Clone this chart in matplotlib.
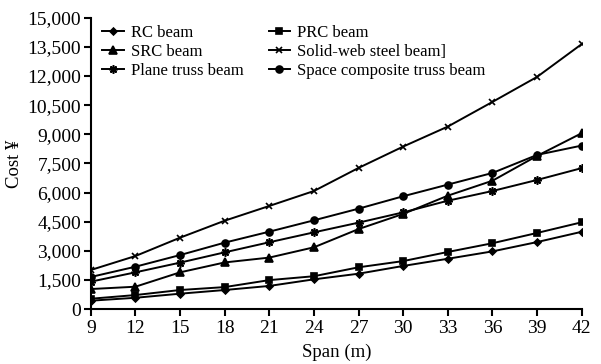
import matplotlib.pyplot as plt

plt.rcParams['font.family'] = ['Liberation Serif', 'DejaVu Serif']

span = [9, 12, 15, 18, 21, 24, 27, 30, 33, 36, 39, 42]

rc_beam = [430, 580, 790, 980, 1190, 1530, 1820, 2220, 2590, 2970, 3450, 3980]
src_beam = [1030, 1150, 1890, 2400, 2650, 3180, 4120, 4900, 5840, 6610, 7890, 9060]
plane_truss = [1410, 1890, 2390, 2920, 3440, 3950, 4450, 4980, 5580, 6080, 6650, 7260]
prc_beam = [530, 720, 980, 1130, 1490, 1690, 2150, 2470, 2940, 3390, 3920, 4470]
solid_web = [2010, 2730, 3675, 4550, 5310, 6080, 7270, 8370, 9400, 10670, 11960, 13650]
space_truss = [1650, 2180, 2780, 3420, 3985, 4570, 5170, 5810, 6410, 7010, 7940, 8420]

y_ticks = list(range(0, 15001, 1500))

fig = plt.figure(figsize=(6.01, 3.64), dpi=100)
ax = fig.add_axes([0.151, 0.151, 0.817, 0.80])

# (label, values, marker, size) -- column order for the two-column legend
series = [
    ('RC beam', rc_beam, 'D', 3.5),
    ('SRC beam', src_beam, '^', 5.5),
    ('Plane truss beam', plane_truss, (8, 2, 0), 6),
    ('PRC beam', prc_beam, 's', 4.5),
    ('Solid-web steel beam]', solid_web, 'x', 4.5),
    ('Space composite truss beam', space_truss, 'o', 5),
]

for label, vals, mk, ms in series:
    ax.plot(span, vals, color='black', linewidth=1.4, marker=mk,
            markersize=ms, markeredgewidth=1.2, label=label)

ax.set_xlim(9, 42)
ax.set_ylim(0, 15000)
ax.set_xticks(span)
ax.set_yticks(y_ticks)
ax.set_yticklabels([f'{v:,}' for v in y_ticks])

for side in ['top', 'right']:
    ax.spines[side].set_visible(False)
for side in ['left', 'bottom']:
    ax.spines[side].set_linewidth(1.5)
ax.tick_params(direction='out', length=5, width=1.5, labelsize=14, pad=2)
ax.tick_params(axis='x', pad=3)

ax.set_xlabel('Span (m)', fontsize=13.5, labelpad=5)
ax.set_ylabel('Cost ¥', fontsize=13.5, labelpad=3)

ax.legend(loc='upper left', ncol=2, frameon=False, fontsize=12,
          bbox_to_anchor=(0.0, 1.015), handlelength=1.3, handletextpad=0.4,
          labelspacing=0.17, columnspacing=1.5, borderaxespad=0.3)

fig.savefig('out.png', dpi=100)
